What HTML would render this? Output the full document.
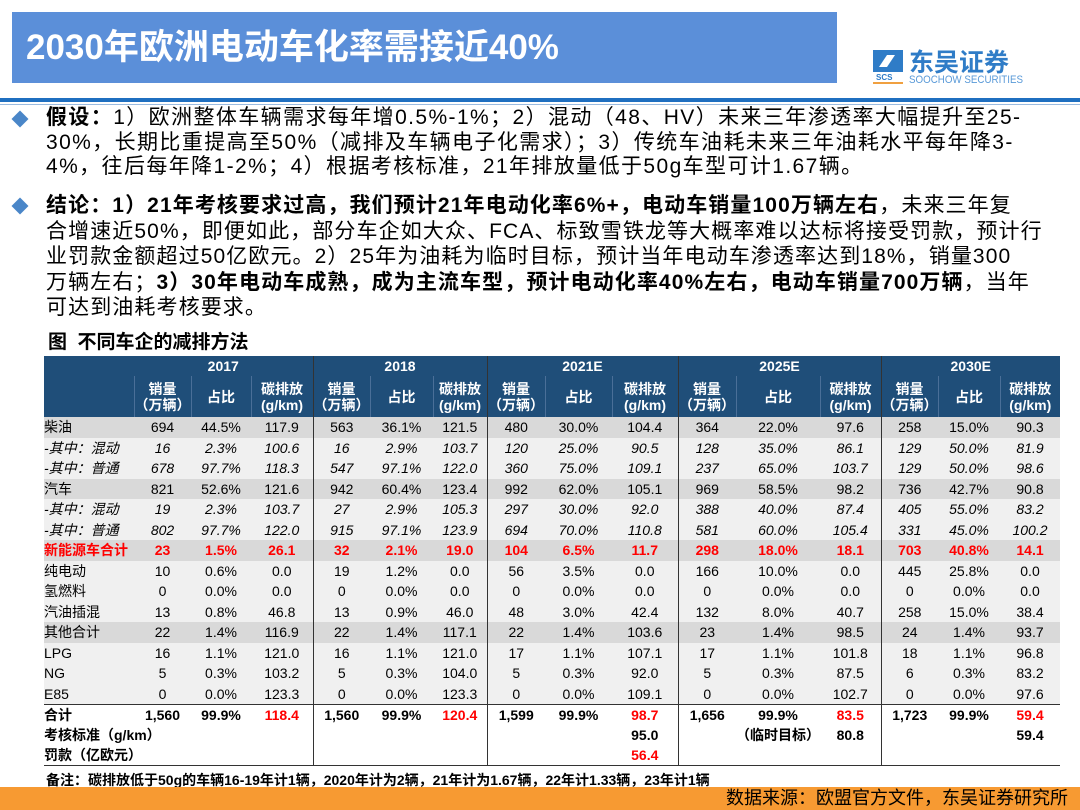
<!DOCTYPE html>
<html><head><meta charset="utf-8"><style>
*{margin:0;padding:0;box-sizing:border-box}
body{width:1080px;height:810px;background:#fff;position:relative;overflow:hidden;font-family:"Liberation Sans","Noto Sans CJK SC",sans-serif;color:#000}
.title{position:absolute;left:12px;top:12px;width:825px;height:71px;background:#5b8fd9;color:#fff;font-weight:bold;font-size:35px;line-height:71px;padding-left:14px}
.logo{position:absolute;left:873px;top:46px}
.line1{position:absolute;left:0;top:98px;width:1080px;height:4px;background:#1f6fc0}
.line2{position:absolute;left:0;top:104px;width:1080px;height:1px;background:#9bbbe0}
.txt{position:absolute;left:46px;font-size:21px;line-height:24.5px;white-space:nowrap;letter-spacing:1.4px}
.bul{position:absolute;left:14px;width:12px;height:12px;background:#4a86c8;transform:rotate(45deg)}
.cap{position:absolute;left:48px;top:332px;font-size:19px;font-weight:bold;line-height:22px}
table{position:absolute;left:44px;top:356px;border-collapse:collapse;table-layout:fixed;font-size:14px}
td,th{height:20.5px;text-align:center;padding:0;white-space:nowrap;overflow:hidden}
th{background:#1f4e79;color:#fff;font-weight:bold;font-size:14px;line-height:16px}
tr.h1 th{height:20px}
tr.h2 th{height:41px;border-left:1px solid #4a6f98}
td.l{text-align:left}
.g td{background:#d9d9d9}
.w td{background:#f0f0f0}
.i td{font-style:italic}
.r td{color:#f00;font-weight:bold}
.b td{font-weight:bold}
.sep{border-left:1.5px solid #333!important}
tr.e td{background:#fff}
.red{color:#f00}
.note{position:absolute;left:46px;top:770px;font-size:14px;font-weight:bold}
.foot{position:absolute;left:0;top:787px;width:1080px;height:23px;background:#f79a32;font-size:18px;text-align:right;padding-right:12px;line-height:23px}
</style></head><body>
<div class="title">2030年欧洲电动车化率需接近40%</div>
<div class="logo"><svg width="160" height="40"><rect x="0" y="4" width="30" height="22" fill="#2f7cc7"/><path d="M6 21 L14 9 L22 9 L14 21 Z" fill="#fff"/><text x="3" y="34" font-size="8" font-weight="bold" fill="#2f7cc7" font-family="Liberation Sans,sans-serif">SCS</text><rect x="0" y="36" width="30" height="2" fill="#f0a040"/><text x="36" y="25" font-size="25" font-weight="bold" fill="#2f7cc7" font-family="Noto Sans CJK SC,sans-serif">东吴证券</text><text x="36" y="37" font-size="11" fill="#5a9ad8" font-family="Liberation Sans,sans-serif" textLength="114" lengthAdjust="spacingAndGlyphs">SOOCHOW SECURITIES</text></svg></div>
<div class="line1"></div><div class="line2"></div>
<div class="bul" style="top:113px"></div>
<div class="txt" style="top:106px"><b>假设：</b>1）欧洲整体车辆需求每年增0.5%-1%；2）混动（48、HV）未来三年渗透率大幅提升至25-<br>30%，长期比重提高至50%（减排及车辆电子化需求）；3）传统车油耗未来三年油耗水平每年降3-<br>4%，往后每年降1-2%；4）根据考核标准，21年排放量低于50g车型可计1.67辆。</div>
<div class="bul" style="top:200px"></div>
<div class="txt" style="top:193px;line-height:25.5px;letter-spacing:1.1px"><b>结论：1）21年考核要求过高，我们预计21年电动化率6%+，电动车销量100万辆左右</b>，未来三年复<br>合增速近50%，即便如此，部分车企如大众、FCA、标致雪铁龙等大概率难以达标将接受罚款，预计行<br>业罚款金额超过50亿欧元。2）25年为油耗为临时目标，预计当年电动车渗透率达到18%，销量300<br>万辆左右；<b>3）30年电动车成熟，成为主流车型，预计电动化率40%左右，电动车销量700万辆</b>，当年<br>可达到油耗考核要求。</div>
<div class="cap">图&nbsp;&nbsp;不同车企的减排方法</div>
<table>
<colgroup><col style="width:90px"><col style="width:56px"><col style="width:60px"><col style="width:62px"><col style="width:56px"><col style="width:63px"><col style="width:54px"><col style="width:58px"><col style="width:67px"><col style="width:66px"><col style="width:58px"><col style="width:67px"><col style="width:61px"><col style="width:56px"><col style="width:62px"><col style="width:60px"></colgroup>
<tr class="h1"><th></th><th colspan="3">2017</th><th colspan="3" class="sep">2018</th><th colspan="3" class="sep">2021E</th><th colspan="3" class="sep">2025E</th><th colspan="3" class="sep">2030E</th></tr>
<tr class="h2"><th style="border-left:0"></th><th>销量<br>（万辆）</th><th>占比</th><th>碳排放<br>(g/km)</th><th class="sep">销量<br>（万辆）</th><th>占比</th><th>碳排放<br>(g/km)</th><th class="sep">销量<br>（万辆）</th><th>占比</th><th>碳排放<br>(g/km)</th><th class="sep">销量<br>（万辆）</th><th>占比</th><th>碳排放<br>(g/km)</th><th class="sep">销量<br>（万辆）</th><th>占比</th><th>碳排放<br>(g/km)</th></tr>
<tr class="g"><td class="l">柴油</td><td>694</td><td>44.5%</td><td>117.9</td><td class="sep">563</td><td>36.1%</td><td>121.5</td><td class="sep">480</td><td>30.0%</td><td>104.4</td><td class="sep">364</td><td>22.0%</td><td>97.6</td><td class="sep">258</td><td>15.0%</td><td>90.3</td></tr>
<tr class="w i"><td class="l">-其中：混动</td><td>16</td><td>2.3%</td><td>100.6</td><td class="sep">16</td><td>2.9%</td><td>103.7</td><td class="sep">120</td><td>25.0%</td><td>90.5</td><td class="sep">128</td><td>35.0%</td><td>86.1</td><td class="sep">129</td><td>50.0%</td><td>81.9</td></tr>
<tr class="w i"><td class="l">-其中：普通</td><td>678</td><td>97.7%</td><td>118.3</td><td class="sep">547</td><td>97.1%</td><td>122.0</td><td class="sep">360</td><td>75.0%</td><td>109.1</td><td class="sep">237</td><td>65.0%</td><td>103.7</td><td class="sep">129</td><td>50.0%</td><td>98.6</td></tr>
<tr class="g"><td class="l">汽车</td><td>821</td><td>52.6%</td><td>121.6</td><td class="sep">942</td><td>60.4%</td><td>123.4</td><td class="sep">992</td><td>62.0%</td><td>105.1</td><td class="sep">969</td><td>58.5%</td><td>98.2</td><td class="sep">736</td><td>42.7%</td><td>90.8</td></tr>
<tr class="w i"><td class="l">-其中：混动</td><td>19</td><td>2.3%</td><td>103.7</td><td class="sep">27</td><td>2.9%</td><td>105.3</td><td class="sep">297</td><td>30.0%</td><td>92.0</td><td class="sep">388</td><td>40.0%</td><td>87.4</td><td class="sep">405</td><td>55.0%</td><td>83.2</td></tr>
<tr class="w i"><td class="l">-其中：普通</td><td>802</td><td>97.7%</td><td>122.0</td><td class="sep">915</td><td>97.1%</td><td>123.9</td><td class="sep">694</td><td>70.0%</td><td>110.8</td><td class="sep">581</td><td>60.0%</td><td>105.4</td><td class="sep">331</td><td>45.0%</td><td>100.2</td></tr>
<tr class="g r"><td class="l">新能源车合计</td><td>23</td><td>1.5%</td><td>26.1</td><td class="sep">32</td><td>2.1%</td><td>19.0</td><td class="sep">104</td><td>6.5%</td><td>11.7</td><td class="sep">298</td><td>18.0%</td><td>18.1</td><td class="sep">703</td><td>40.8%</td><td>14.1</td></tr>
<tr class="w"><td class="l">纯电动</td><td>10</td><td>0.6%</td><td>0.0</td><td class="sep">19</td><td>1.2%</td><td>0.0</td><td class="sep">56</td><td>3.5%</td><td>0.0</td><td class="sep">166</td><td>10.0%</td><td>0.0</td><td class="sep">445</td><td>25.8%</td><td>0.0</td></tr>
<tr class="w"><td class="l">氢燃料</td><td>0</td><td>0.0%</td><td>0.0</td><td class="sep">0</td><td>0.0%</td><td>0.0</td><td class="sep">0</td><td>0.0%</td><td>0.0</td><td class="sep">0</td><td>0.0%</td><td>0.0</td><td class="sep">0</td><td>0.0%</td><td>0.0</td></tr>
<tr class="w"><td class="l">汽油插混</td><td>13</td><td>0.8%</td><td>46.8</td><td class="sep">13</td><td>0.9%</td><td>46.0</td><td class="sep">48</td><td>3.0%</td><td>42.4</td><td class="sep">132</td><td>8.0%</td><td>40.7</td><td class="sep">258</td><td>15.0%</td><td>38.4</td></tr>
<tr class="g"><td class="l">其他合计</td><td>22</td><td>1.4%</td><td>116.9</td><td class="sep">22</td><td>1.4%</td><td>117.1</td><td class="sep">22</td><td>1.4%</td><td>103.6</td><td class="sep">23</td><td>1.4%</td><td>98.5</td><td class="sep">24</td><td>1.4%</td><td>93.7</td></tr>
<tr class="w"><td class="l">LPG</td><td>16</td><td>1.1%</td><td>121.0</td><td class="sep">16</td><td>1.1%</td><td>121.0</td><td class="sep">17</td><td>1.1%</td><td>107.1</td><td class="sep">17</td><td>1.1%</td><td>101.8</td><td class="sep">18</td><td>1.1%</td><td>96.8</td></tr>
<tr class="w"><td class="l">NG</td><td>5</td><td>0.3%</td><td>103.2</td><td class="sep">5</td><td>0.3%</td><td>104.0</td><td class="sep">5</td><td>0.3%</td><td>92.0</td><td class="sep">5</td><td>0.3%</td><td>87.5</td><td class="sep">6</td><td>0.3%</td><td>83.2</td></tr>
<tr class="w"><td class="l">E85</td><td>0</td><td>0.0%</td><td>123.3</td><td class="sep">0</td><td>0.0%</td><td>123.3</td><td class="sep">0</td><td>0.0%</td><td>109.1</td><td class="sep">0</td><td>0.0%</td><td>102.7</td><td class="sep">0</td><td>0.0%</td><td>97.6</td></tr>
<tr class="e b" style="border-top:1.5px solid #333"><td class="l">合计</td><td>1,560</td><td>99.9%</td><td class="red">118.4</td><td class="sep">1,560</td><td>99.9%</td><td class="red">120.4</td><td class="sep">1,599</td><td>99.9%</td><td class="red">98.7</td><td class="sep">1,656</td><td>99.9%</td><td class="red">83.5</td><td class="sep">1,723</td><td>99.9%</td><td class="red">59.4</td></tr>
<tr class="e b"><td class="l" colspan="2">考核标准（g/km）</td><td></td><td></td><td class="sep"></td><td></td><td></td><td class="sep"></td><td></td><td>95.0</td><td class="sep"></td><td>（临时目标）</td><td>80.8</td><td class="sep"></td><td></td><td>59.4</td></tr>
<tr class="e b" style="border-bottom:1.5px solid #333"><td class="l" colspan="2">罚款（亿欧元）</td><td></td><td></td><td class="sep"></td><td></td><td></td><td class="sep"></td><td></td><td class="red">56.4</td><td class="sep"></td><td></td><td></td><td class="sep"></td><td></td><td></td></tr>
</table>
<div class="note">备注：碳排放低于50g的车辆16-19年计1辆，2020年计为2辆，21年计为1.67辆，22年计1.33辆，23年计1辆</div>
<div class="foot">数据来源：欧盟官方文件，东吴证券研究所</div>
</body></html>
